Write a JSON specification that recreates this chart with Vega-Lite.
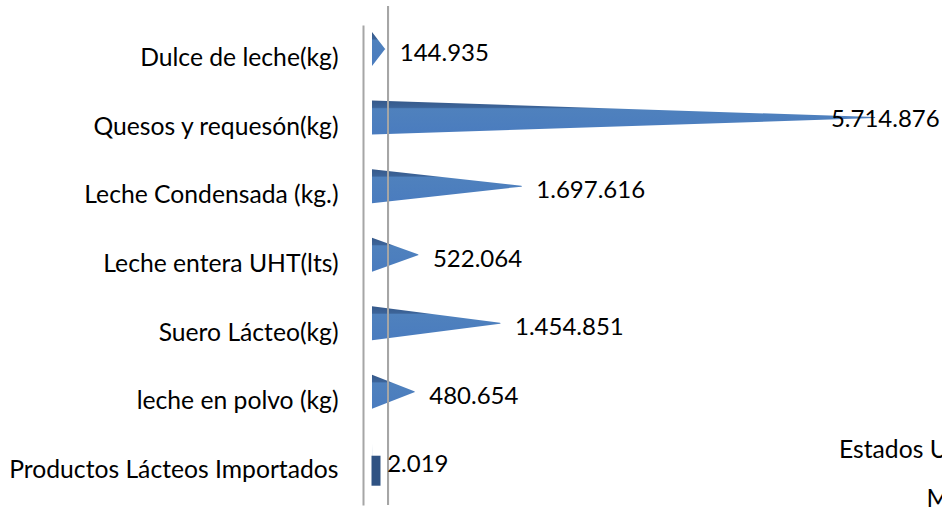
{
  "$schema": "https://vega.github.io/schema/vega-lite/v6.json",
  "autosize": {"type": "none"},
  "width": 570,
  "height": 480,
  "padding": {"left": 372, "top": 25, "right": 0, "bottom": 2},
  "background": "white",
  "config": {
    "view": {"stroke": null},
    "font": "Lato",
    "locale": {"number": {"decimal": ",", "thousands": ".", "grouping": [3], "currency": ["$", ""]}}
  },
  "datasets": {
    "productos": [
      {"producto": "Dulce de leche(kg)", "inicio": 0, "valor": 144935},
      {"producto": "Quesos y requesón(kg)", "inicio": 0, "valor": 5714876},
      {"producto": "Leche Condensada (kg.)", "inicio": 0, "valor": 1697616},
      {"producto": "Leche entera UHT(lts)", "inicio": 0, "valor": 522064},
      {"producto": "Suero Lácteo(kg)", "inicio": 0, "valor": 1454851},
      {"producto": "leche en polvo (kg)", "inicio": 0, "valor": 480654},
      {"producto": "Productos Lácteos Importados", "inicio": 0, "valor": 2019}
    ],
    "paises": [
      {"pais": "Estados Unidos"},
      {"pais": "México"}
    ]
  },
  "layer": [
    {
      "data": {"name": "productos"},
      "transform": [{"fold": ["inicio", "valor"], "as": ["extremo", "x"]}],
      "mark": {
        "type": "trail",
        "clip": true,
        "color": {
          "gradient": "linear",
          "x1": 0, "y1": 0, "x2": 0, "y2": 1,
          "stops": [
            {"offset": 0, "color": "#36598a"},
            {"offset": 0.2, "color": "#3c6499"},
            {"offset": 0.24, "color": "#4f81bd"},
            {"offset": 1, "color": "#4a7cbf"}
          ]
        }
      },
      "encoding": {
        "y": {
          "field": "producto", "type": "nominal", "sort": null, "bandPosition": 0.35,
          "scale": {"paddingInner": 0, "paddingOuter": 0},
          "axis": {
            "title": null, "ticks": false, "offset": 9, "labelPadding": 25,
            "labelFontSize": 24.7, "labelColor": "#000000", "labelFont": "Lato", "labelLimit": 400,
            "domainColor": "#a6a6a6", "domainWidth": 2
          }
        },
        "x": {"field": "x", "type": "quantitative", "scale": {"domain": [0, 6480000]}, "axis": null},
        "size": {
          "field": "extremo", "type": "nominal",
          "scale": {"type": "ordinal", "domain": ["inicio", "valor"], "range": [34, 0]},
          "legend": null
        },
        "detail": {"field": "producto", "type": "nominal"}
      }
    },
    {
      "data": {"name": "productos"},
      "transform": [{"filter": "datum.valor < 10000"}],
      "mark": {"type": "tick", "orient": "vertical", "thickness": 9, "color": "#2f5283", "opacity": 1, "xOffset": 4},
      "encoding": {
        "y": {"field": "producto", "type": "nominal", "sort": null, "bandPosition": 0.4},
        "x": {"datum": 0, "type": "quantitative", "scale": {"domain": [0, 6480000]}},
        "size": {"value": 30}
      }
    },
    {
      "data": {"name": "productos"},
      "mark": {"type": "rule", "color": "#a6a6a6", "strokeWidth": 2, "yOffset": -19},
      "encoding": {
        "x": {"datum": 182000, "type": "quantitative", "scale": {"domain": [0, 6480000]}}
      }
    },
    {
      "data": {"name": "productos"},
      "transform": [{"filter": "datum.valor < 5000000"}],
      "mark": {"type": "text", "align": "left", "baseline": "middle", "dx": 15, "fontSize": 24, "color": "#000000"},
      "encoding": {
        "y": {"field": "producto", "type": "nominal", "sort": null, "bandPosition": 0.42},
        "x": {"field": "valor", "type": "quantitative", "scale": {"domain": [0, 6480000]}},
        "text": {"field": "valor", "type": "quantitative", "format": ",d"}
      }
    },
    {
      "data": {"name": "productos"},
      "transform": [{"filter": "datum.valor >= 5000000"}],
      "mark": {"type": "text", "align": "right", "baseline": "middle", "dx": 65, "fontSize": 24, "color": "#000000"},
      "encoding": {
        "y": {"field": "producto", "type": "nominal", "sort": null, "bandPosition": 0.38},
        "x": {"field": "valor", "type": "quantitative", "scale": {"domain": [0, 6480000]}},
        "text": {"field": "valor", "type": "quantitative", "format": ",d"}
      }
    },
    {
      "data": {"name": "paises"},
      "mark": {"type": "point", "opacity": 0},
      "encoding": {
        "shape": {
          "field": "pais", "type": "nominal",
          "legend": {
            "orient": "none", "legendX": 609, "legendY": 414, "title": null,
            "labelAlign": "right", "labelFontSize": 24.7, "labelFont": "Lato", "labelColor": "#000000",
            "labelLimit": 400, "labelOffset": 0, "symbolOpacity": 0, "symbolSize": 0,
            "symbolStrokeWidth": 0, "rowPadding": 23, "padding": 0
          }
        }
      }
    }
  ]
}
